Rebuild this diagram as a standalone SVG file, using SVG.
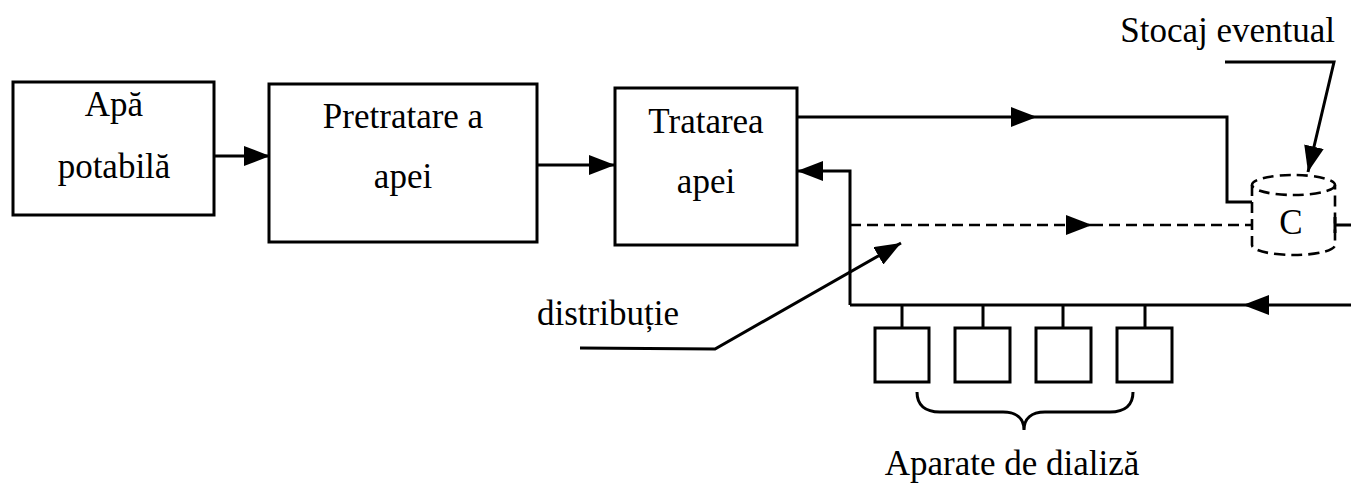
<svg xmlns="http://www.w3.org/2000/svg" width="1351" height="485" viewBox="0 0 1351 485">
<style>
.box{fill:#fff;stroke:#000;stroke-width:3}
.ln{fill:none;stroke:#000;stroke-width:3}
.dash{fill:none;stroke:#000;stroke-width:2.6;stroke-dasharray:11 6}
.t{font-family:"Liberation Serif","Times New Roman",serif;font-size:35px;fill:#000}
.m{text-anchor:middle}
</style>
<defs>
<marker id="ah" viewBox="0 0 26 20" refX="26" refY="10" markerWidth="26" markerHeight="20" markerUnits="userSpaceOnUse" orient="auto">
<path d="M0,0 L26,10 L0,20 z" fill="#000"/>
</marker>
</defs>
<rect width="1351" height="485" fill="#fff"/>
<g id="connectors">
<line class="ln" x1="214" y1="156" x2="270" y2="156" marker-end="url(#ah)"/>
<line class="ln" x1="537" y1="165" x2="615" y2="165" marker-end="url(#ah)"/>
<path class="ln" d="M850,305 L850,171 L797,171" marker-end="url(#ah)"/>
<path class="ln" d="M797,117 L1037,117" marker-end="url(#ah)"/>
<path class="ln" d="M1037,117 L1227,117 L1227,202 L1252,202"/>
<path class="dash" d="M850,225 L1092,225" marker-end="url(#ah)"/>
<path class="dash" d="M1092,225 L1252,225"/>
<path class="ln" d="M1335,217 L1335,233 M1335,225 L1351,225"/>
<path class="ln" d="M1351,305 L1243,305" marker-end="url(#ah)"/>
<path class="ln" d="M1243,305 L850,305"/>
<path class="ln" d="M902,305 L902,328 M983,305 L983,328 M1063,305 L1063,328 M1145,305 L1145,328"/>
<path class="ln" d="M580,348 L715,349 L901,243" marker-end="url(#ah)"/>
<path class="ln" d="M1225,62 L1334,62 L1308,172" marker-end="url(#ah)"/>
<path class="ln" stroke-width="2.5" d="M917,392 C917,405 925,412 940,412 L1003,412 C1017,412 1024,419 1024,430 C1024,419 1031,412 1045,412 L1110,412 C1125,412 1133,405 1133,392"/>
</g>
<g id="node-apa">
<rect class="box" x="13" y="82" width="201" height="133"/>
<text class="t m" x="114" y="116">Apă</text>
<text class="t m" x="114" y="178">potabilă</text>
</g>
<g id="node-pretratare">
<rect class="box" x="269" y="84" width="268" height="158"/>
<text class="t m" x="403" y="128">Pretratare a</text>
<text class="t m" x="403" y="188">apei</text>
</g>
<g id="node-tratarea">
<rect class="box" x="615" y="88" width="182" height="157"/>
<text class="t m" x="706" y="133">Tratarea</text>
<text class="t m" x="706" y="193">apei</text>
</g>
<g id="node-stocaj">
<ellipse class="dash" cx="1293.5" cy="185" rx="41.5" ry="10"/>
<path class="dash" d="M1252,185 L1252,245 A41.5,10 0 0 0 1335,245 L1335,185"/>
<text class="t m" x="1291" y="234">C</text>
<text class="t" x="1335" y="42" text-anchor="end">Stocaj eventual</text>
</g>
<g id="node-dializa">
<rect class="box" x="875" y="328" width="54" height="54"/>
<rect class="box" x="955" y="328" width="55" height="54"/>
<rect class="box" x="1036" y="328" width="55" height="54"/>
<rect class="box" x="1117" y="328" width="55" height="54"/>
<text class="t m" x="1012" y="475">Aparate de dializă</text>
</g>
<g id="label-distributie">
<text class="t" x="537" y="325">distribuție</text>
</g>
</svg>
